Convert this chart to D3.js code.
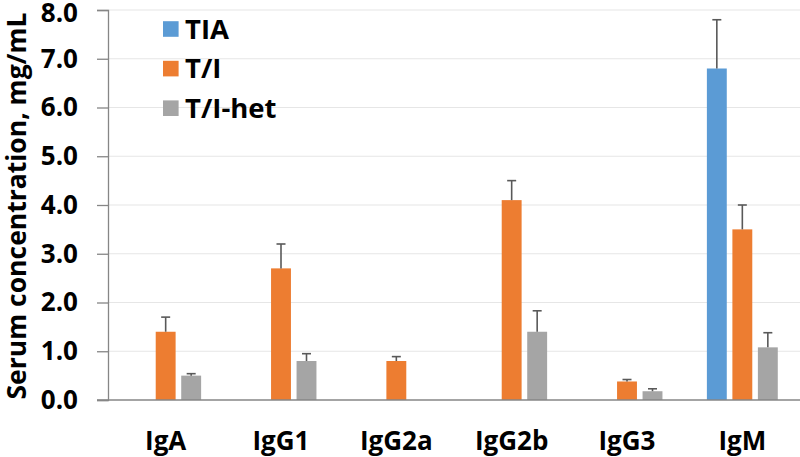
<!DOCTYPE html>
<html><head><meta charset="utf-8">
<script src="https://cdn.jsdelivr.net/npm/d3@7"></script>
<style>body{margin:0;background:#fff}svg{display:block}text{font-family:"Open Sans",sans-serif;font-weight:700;fill:#000}</style>
</head><body><svg id="c" width="800" height="457"></svg>
<script>
const categories = ["IgA","IgG1","IgG2a","IgG2b","IgG3","IgM"];
const seriesNames = ["TIA","T/I","T/I-het"];
const seriesColors = ["#5B9BD5","#ED7D31","#A5A5A5"];
const tiaValues   = [0, 0, 0, 0, 0, 6.8];
const tiaErrTop   = [null, null, null, null, null, 7.8];
const tiValues    = [1.4, 2.7, 0.8, 4.1, 0.38, 3.5];
const tiErrTop    = [1.7, 3.2, 0.89, 4.5, 0.42, 4.0];
const hetValues   = [0.5, 0.8, 0, 1.4, 0.18, 1.08];
const hetErrTop   = [0.54, 0.95, null, 1.83, 0.23, 1.38];
const yTicks = [0,1,2,3,4,5,6,7,8];

const svg = d3.select("#c");
const mLeft = 108, mRight = 800, mTop = 10, mBottom = 400;
const x0 = d3.scaleBand().domain(categories).range([mLeft, mRight]).paddingInner(0).paddingOuter(0);
const x1 = d3.scaleBand().domain(seriesNames).range([-35.45, 35.45]).paddingInner(0.22).paddingOuter(0);
const y = d3.scaleLinear().domain([0, 8]).range([mBottom, mTop]);

// gridlines
svg.append("g").selectAll("line").data(yTicks.filter(t => t > 0)).join("line")
  .attr("x1", mLeft).attr("x2", mRight).attr("y1", d => y(d)).attr("y2", d => y(d))
  .attr("stroke", "#E6E6E6").attr("stroke-width", 1.2);

const data = [
  {name: seriesNames[0], color: seriesColors[0], vals: tiaValues, err: tiaErrTop},
  {name: seriesNames[1], color: seriesColors[1], vals: tiValues, err: tiErrTop},
  {name: seriesNames[2], color: seriesColors[2], vals: hetValues, err: hetErrTop}
];

data.forEach(s => {
  const g = svg.append("g");
  const items = categories.map((c, i) => ({c, v: s.vals[i], e: s.err[i]}));
  g.selectAll("rect").data(items.filter(d => d.v > 0)).join("rect")
    .attr("x", d => x0(d.c) + x0.bandwidth()/2 + x1(s.name))
    .attr("width", x1.bandwidth())
    .attr("y", d => y(d.v))
    .attr("height", d => y(0) - y(d.v))
    .attr("fill", s.color);
  const eb = items.filter(d => d.e != null);
  const cx = d => x0(d.c) + x0.bandwidth()/2 + x1(s.name) + x1.bandwidth()/2;
  g.selectAll("line.v").data(eb).join("line").attr("class","v")
    .attr("x1", cx).attr("x2", cx).attr("y1", d => y(d.v)).attr("y2", d => y(d.e))
    .attr("stroke", "#595959").attr("stroke-width", 1.6);
  g.selectAll("line.c").data(eb).join("line").attr("class","c")
    .attr("x1", d => cx(d) - 4.5).attr("x2", d => cx(d) + 4.5).attr("y1", d => y(d.e)).attr("y2", d => y(d.e))
    .attr("stroke", "#595959").attr("stroke-width", 1.6);
});

// y axis
const yAxis = d3.axisLeft(y).tickValues(yTicks).tickFormat(d3.format(".1f")).tickSize(11).tickPadding(19);
const ya = svg.append("g").attr("transform", `translate(${mLeft},0)`).call(yAxis);
ya.select(".domain").attr("stroke", "#868686").attr("stroke-width", 1.3);
ya.selectAll(".tick line").attr("stroke", "#868686").attr("stroke-width", 1.3);
ya.selectAll(".tick text").style("font-size", "26px").style("font-family", '"Open Sans",sans-serif').style("font-weight", 700).attr("fill", "#000")
  .attr("dy", d => d === 8 ? "0.44em" : "0.32em");

// x axis baseline
const xAxis = d3.axisBottom(x0).tickSize(0).tickPadding(32);
const xa = svg.append("g").attr("transform", `translate(0,${mBottom})`).call(xAxis);
xa.select(".domain").attr("stroke", "#868686").attr("stroke-width", 1.3).attr("d", `M${mLeft-11},0H${mRight}`);
xa.selectAll(".tick text").style("font-size", "26px").style("font-family", '"Open Sans",sans-serif').style("font-weight", 700).attr("fill", "#000");

// y title
svg.append("text").attr("transform", `translate(26,206) rotate(-90)`).attr("text-anchor", "middle")
  .style("font-size", "26.5px").text("Serum concentration, mg/mL");

// legend
const lg = svg.append("g").selectAll("g").data(data).join("g")
  .attr("transform", (d, i) => `translate(163,${29 + i * 39.6})`);
lg.append("rect").attr("x", 0).attr("y", -7.8).attr("width", 15.6).attr("height", 15.6).attr("fill", d => d.color);
lg.append("text").attr("x", 22).attr("y", 0).attr("dy", "0.35em").style("font-size", "27.5px").text(d => d.name);
</script></body></html>
